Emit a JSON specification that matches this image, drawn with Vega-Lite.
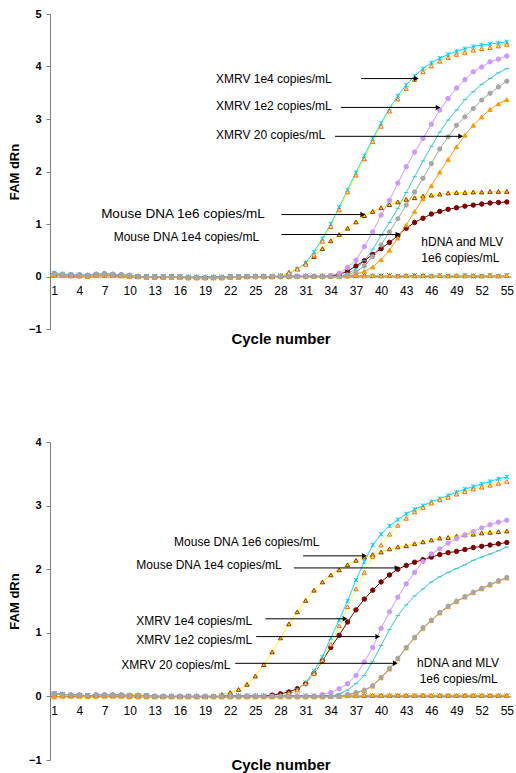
{
"$schema":"https://vega.github.io/schema/vega-lite/v6.json",
"padding":{"left":8,"right":2,"top":8,"bottom":0},
"spacing":89,
"config":{"view":{"stroke":null},"font":"Liberation Sans",
"axis":{"grid":false,"domainColor":"#808080","tickColor":"#808080","labelColor":"black","titleColor":"black","labelFont":"Liberation Sans","titleFont":"Liberation Sans"},
"axisY":{"labelFontWeight":"bold","labelFontSize":11,"labelPadding":5,"tickSize":4,"titleFontSize":13,"titleFontWeight":"bold","titlePadding":7},
"axisX":{"ticks":false,"labelFontSize":12,"labelPadding":9,"labelFlush":false,"titleFontSize":15,"titleFontWeight":"bold","titleBaseline":"middle"}},
"datasets":{
"arA":[{"c":37.6,"c2":44.2,"v":3.77},{"c":35.2,"c2":46.8,"v":3.22},{"c":34.5,"c2":49.5,"v":2.67},{"c":28.1,"c2":37.8,"v":1.18},{"c":28.1,"c2":42.0,"v":0.8}],
"arB":[{"c":30.7,"c2":38.0,"v":2.21},{"c":29.6,"c2":41.9,"v":2.02},{"c":26.2,"c2":35.7,"v":1.22},{"c":25.1,"c2":39.6,"v":0.94},{"c":22.6,"c2":41.7,"v":0.52}],
"ntA":[{"t":"XMRV 1e4 copies/mL","c":20.3,"v":3.77},{"t":"XMRV 1e2 copies/mL","c":20.3,"v":3.24},{"t":"XMRV 20 copies/mL","c":20.3,"v":2.69},{"t":"Mouse DNA 1e6 copies/mL","c":6.6,"v":1.2},{"t":"Mouse DNA 1e4 copies/mL","c":8.1,"v":0.76},{"t":"hDNA and MLV","c":44.8,"v":0.65},{"t":"1e6 copies/mL","c":44.8,"v":0.36}],
"ntB":[{"t":"Mouse DNA 1e6 copies/mL","c":15.3,"v":2.43},{"t":"Mouse DNA 1e4 copies/mL","c":10.8,"v":2.07},{"t":"XMRV 1e4 copies/mL","c":10.8,"v":1.18},{"t":"XMRV 1e2 copies/mL","c":10.8,"v":0.89},{"t":"XMRV 20 copies/mL","c":9.0,"v":0.5},{"t":"hDNA and MLV","c":44.3,"v":0.52},{"t":"1e6 copies/mL","c":44.6,"v":0.27}],
"A":[
{"s":"f1","c":1,"v":0.02},{"s":"f1","c":2,"v":0.02},{"s":"f1","c":3,"v":0.01},{"s":"f1","c":4,"v":0.01},{"s":"f1","c":5,"v":0.01},{"s":"f1","c":6,"v":0.02},{"s":"f1","c":7,"v":0.02},{"s":"f1","c":8,"v":0.02},{"s":"f1","c":9,"v":0.01},{"s":"f1","c":10,"v":0.01},{"s":"f1","c":11,"v":0},{"s":"f1","c":12,"v":0},{"s":"f1","c":13,"v":0},{"s":"f1","c":14,"v":0},{"s":"f1","c":15,"v":0},{"s":"f1","c":16,"v":0},{"s":"f1","c":17,"v":-0.01},{"s":"f1","c":18,"v":-0.01},{"s":"f1","c":19,"v":-0.01},{"s":"f1","c":20,"v":-0.01},{"s":"f1","c":21,"v":-0.01},{"s":"f1","c":22,"v":0},{"s":"f1","c":23,"v":0},{"s":"f1","c":24,"v":0},{"s":"f1","c":25,"v":0},{"s":"f1","c":26,"v":0},{"s":"f1","c":27,"v":0},{"s":"f1","c":28,"v":0.01},{"s":"f1","c":29,"v":0.01},{"s":"f1","c":30,"v":0.01},{"s":"f1","c":31,"v":0.01},{"s":"f1","c":32,"v":0.01},{"s":"f1","c":33,"v":0.01},{"s":"f1","c":34,"v":0.01},{"s":"f1","c":35,"v":0.01},{"s":"f1","c":36,"v":0.01},{"s":"f1","c":37,"v":0.01},{"s":"f1","c":38,"v":0.02},{"s":"f1","c":39,"v":0.01},{"s":"f1","c":40,"v":0.01},{"s":"f1","c":41,"v":0.02},{"s":"f1","c":42,"v":0.01},{"s":"f1","c":43,"v":0.01},{"s":"f1","c":44,"v":0.02},{"s":"f1","c":45,"v":0.01},{"s":"f1","c":46,"v":0.01},{"s":"f1","c":47,"v":0.02},{"s":"f1","c":48,"v":0.01},{"s":"f1","c":49,"v":0.01},{"s":"f1","c":50,"v":0.02},{"s":"f1","c":51,"v":0.01},{"s":"f1","c":52,"v":0.01},{"s":"f1","c":53,"v":0.02},{"s":"f1","c":54,"v":0.01},{"s":"f1","c":55,"v":0.02},
{"s":"f2","c":1,"v":0.03},{"s":"f2","c":2,"v":0.02},{"s":"f2","c":3,"v":0.02},{"s":"f2","c":4,"v":0.01},{"s":"f2","c":5,"v":0.01},{"s":"f2","c":6,"v":0.02},{"s":"f2","c":7,"v":0.03},{"s":"f2","c":8,"v":0.03},{"s":"f2","c":9,"v":0.02},{"s":"f2","c":10,"v":0.01},{"s":"f2","c":11,"v":0},{"s":"f2","c":12,"v":0},{"s":"f2","c":13,"v":0},{"s":"f2","c":14,"v":-0.01},{"s":"f2","c":15,"v":-0.01},{"s":"f2","c":16,"v":-0.01},{"s":"f2","c":17,"v":-0.01},{"s":"f2","c":18,"v":-0.01},{"s":"f2","c":19,"v":-0.01},{"s":"f2","c":20,"v":-0.01},{"s":"f2","c":21,"v":-0.01},{"s":"f2","c":22,"v":-0.01},{"s":"f2","c":23,"v":0},{"s":"f2","c":24,"v":0},{"s":"f2","c":25,"v":0},{"s":"f2","c":26,"v":0},{"s":"f2","c":27,"v":0},{"s":"f2","c":28,"v":0.01},{"s":"f2","c":29,"v":0.02},{"s":"f2","c":30,"v":0.01},{"s":"f2","c":31,"v":0.02},{"s":"f2","c":32,"v":0.01},{"s":"f2","c":33,"v":0.02},{"s":"f2","c":34,"v":0.01},{"s":"f2","c":35,"v":0.02},{"s":"f2","c":36,"v":0.01},{"s":"f2","c":37,"v":0.02},{"s":"f2","c":38,"v":0.01},{"s":"f2","c":39,"v":0.02},{"s":"f2","c":40,"v":0.01},{"s":"f2","c":41,"v":0.02},{"s":"f2","c":42,"v":0.01},{"s":"f2","c":43,"v":0.02},{"s":"f2","c":44,"v":0.01},{"s":"f2","c":45,"v":0.02},{"s":"f2","c":46,"v":0.01},{"s":"f2","c":47,"v":0.02},{"s":"f2","c":48,"v":0.01},{"s":"f2","c":49,"v":0.02},{"s":"f2","c":50,"v":0.01},{"s":"f2","c":51,"v":0.02},{"s":"f2","c":52,"v":0.01},{"s":"f2","c":53,"v":0.02},{"s":"f2","c":54,"v":0.01},{"s":"f2","c":55,"v":0.02},
{"s":"dr","c":1,"v":0.05},{"s":"dr","c":2,"v":0.04},{"s":"dr","c":3,"v":0.03},{"s":"dr","c":4,"v":0.03},{"s":"dr","c":5,"v":0.02},{"s":"dr","c":6,"v":0.04},{"s":"dr","c":7,"v":0.05},{"s":"dr","c":8,"v":0.04},{"s":"dr","c":9,"v":0.03},{"s":"dr","c":10,"v":0.02},{"s":"dr","c":11,"v":0},{"s":"dr","c":12,"v":-0.01},{"s":"dr","c":13,"v":-0.01},{"s":"dr","c":14,"v":-0.01},{"s":"dr","c":15,"v":-0.01},{"s":"dr","c":16,"v":-0.01},{"s":"dr","c":17,"v":-0.02},{"s":"dr","c":18,"v":-0.02},{"s":"dr","c":19,"v":-0.02},{"s":"dr","c":20,"v":-0.02},{"s":"dr","c":21,"v":-0.02},{"s":"dr","c":22,"v":-0.01},{"s":"dr","c":23,"v":-0.01},{"s":"dr","c":24,"v":0},{"s":"dr","c":25,"v":0},{"s":"dr","c":26,"v":0},{"s":"dr","c":27,"v":0},{"s":"dr","c":28,"v":0},{"s":"dr","c":29,"v":0},{"s":"dr","c":30,"v":0},{"s":"dr","c":31,"v":0},{"s":"dr","c":32,"v":0},{"s":"dr","c":33,"v":0},{"s":"dr","c":34,"v":0.01},{"s":"dr","c":35,"v":0.04},{"s":"dr","c":36,"v":0.1},{"s":"dr","c":37,"v":0.2},{"s":"dr","c":38,"v":0.3},{"s":"dr","c":39,"v":0.42},{"s":"dr","c":40,"v":0.53},{"s":"dr","c":41,"v":0.65},{"s":"dr","c":42,"v":0.78},{"s":"dr","c":43,"v":0.92},{"s":"dr","c":44,"v":1.03},{"s":"dr","c":45,"v":1.11},{"s":"dr","c":46,"v":1.19},{"s":"dr","c":47,"v":1.24},{"s":"dr","c":48,"v":1.28},{"s":"dr","c":49,"v":1.31},{"s":"dr","c":50,"v":1.34},{"s":"dr","c":51,"v":1.36},{"s":"dr","c":52,"v":1.38},{"s":"dr","c":53,"v":1.4},{"s":"dr","c":54,"v":1.41},{"s":"dr","c":55,"v":1.42},
{"s":"m6","c":1,"v":0.05},{"s":"m6","c":2,"v":0.04},{"s":"m6","c":3,"v":0.03},{"s":"m6","c":4,"v":0.03},{"s":"m6","c":5,"v":0.02},{"s":"m6","c":6,"v":0.04},{"s":"m6","c":7,"v":0.05},{"s":"m6","c":8,"v":0.04},{"s":"m6","c":9,"v":0.03},{"s":"m6","c":10,"v":0.02},{"s":"m6","c":11,"v":0},{"s":"m6","c":12,"v":-0.01},{"s":"m6","c":13,"v":-0.01},{"s":"m6","c":14,"v":-0.01},{"s":"m6","c":15,"v":-0.01},{"s":"m6","c":16,"v":-0.01},{"s":"m6","c":17,"v":-0.02},{"s":"m6","c":18,"v":-0.02},{"s":"m6","c":19,"v":-0.02},{"s":"m6","c":20,"v":-0.02},{"s":"m6","c":21,"v":-0.02},{"s":"m6","c":22,"v":-0.01},{"s":"m6","c":23,"v":-0.01},{"s":"m6","c":24,"v":0},{"s":"m6","c":25,"v":0},{"s":"m6","c":26,"v":0},{"s":"m6","c":27,"v":0},{"s":"m6","c":28,"v":0.02},{"s":"m6","c":29,"v":0.08},{"s":"m6","c":30,"v":0.15},{"s":"m6","c":31,"v":0.25},{"s":"m6","c":32,"v":0.38},{"s":"m6","c":33,"v":0.53},{"s":"m6","c":34,"v":0.68},{"s":"m6","c":35,"v":0.8},{"s":"m6","c":36,"v":0.92},{"s":"m6","c":37,"v":1.04},{"s":"m6","c":38,"v":1.16},{"s":"m6","c":39,"v":1.24},{"s":"m6","c":40,"v":1.31},{"s":"m6","c":41,"v":1.37},{"s":"m6","c":42,"v":1.42},{"s":"m6","c":43,"v":1.47},{"s":"m6","c":44,"v":1.5},{"s":"m6","c":45,"v":1.53},{"s":"m6","c":46,"v":1.55},{"s":"m6","c":47,"v":1.57},{"s":"m6","c":48,"v":1.59},{"s":"m6","c":49,"v":1.6},{"s":"m6","c":50,"v":1.6},{"s":"m6","c":51,"v":1.61},{"s":"m6","c":52,"v":1.61},{"s":"m6","c":53,"v":1.62},{"s":"m6","c":54,"v":1.62},{"s":"m6","c":55,"v":1.62},
{"s":"pu","c":1,"v":0.05},{"s":"pu","c":2,"v":0.04},{"s":"pu","c":3,"v":0.03},{"s":"pu","c":4,"v":0.03},{"s":"pu","c":5,"v":0.02},{"s":"pu","c":6,"v":0.04},{"s":"pu","c":7,"v":0.05},{"s":"pu","c":8,"v":0.04},{"s":"pu","c":9,"v":0.03},{"s":"pu","c":10,"v":0.02},{"s":"pu","c":11,"v":0},{"s":"pu","c":12,"v":-0.01},{"s":"pu","c":13,"v":-0.01},{"s":"pu","c":14,"v":-0.01},{"s":"pu","c":15,"v":-0.01},{"s":"pu","c":16,"v":-0.01},{"s":"pu","c":17,"v":-0.02},{"s":"pu","c":18,"v":-0.02},{"s":"pu","c":19,"v":-0.02},{"s":"pu","c":20,"v":-0.02},{"s":"pu","c":21,"v":-0.02},{"s":"pu","c":22,"v":-0.01},{"s":"pu","c":23,"v":-0.01},{"s":"pu","c":24,"v":0},{"s":"pu","c":25,"v":0},{"s":"pu","c":26,"v":0},{"s":"pu","c":27,"v":0},{"s":"pu","c":28,"v":0},{"s":"pu","c":29,"v":0},{"s":"pu","c":30,"v":0},{"s":"pu","c":31,"v":0},{"s":"pu","c":32,"v":0},{"s":"pu","c":33,"v":0},{"s":"pu","c":34,"v":0.02},{"s":"pu","c":35,"v":0.06},{"s":"pu","c":36,"v":0.17},{"s":"pu","c":37,"v":0.31},{"s":"pu","c":38,"v":0.57},{"s":"pu","c":39,"v":0.85},{"s":"pu","c":40,"v":1.17},{"s":"pu","c":41,"v":1.45},{"s":"pu","c":42,"v":1.78},{"s":"pu","c":43,"v":2.09},{"s":"pu","c":44,"v":2.37},{"s":"pu","c":45,"v":2.63},{"s":"pu","c":46,"v":2.9},{"s":"pu","c":47,"v":3.17},{"s":"pu","c":48,"v":3.39},{"s":"pu","c":49,"v":3.59},{"s":"pu","c":50,"v":3.75},{"s":"pu","c":51,"v":3.9},{"s":"pu","c":52,"v":3.99},{"s":"pu","c":53,"v":4.09},{"s":"pu","c":54,"v":4.14},{"s":"pu","c":55,"v":4.2},
{"s":"te","c":1,"v":0.05},{"s":"te","c":2,"v":0.04},{"s":"te","c":3,"v":0.03},{"s":"te","c":4,"v":0.03},{"s":"te","c":5,"v":0.02},{"s":"te","c":6,"v":0.04},{"s":"te","c":7,"v":0.05},{"s":"te","c":8,"v":0.04},{"s":"te","c":9,"v":0.03},{"s":"te","c":10,"v":0.02},{"s":"te","c":11,"v":0},{"s":"te","c":12,"v":-0.01},{"s":"te","c":13,"v":-0.01},{"s":"te","c":14,"v":-0.01},{"s":"te","c":15,"v":-0.01},{"s":"te","c":16,"v":-0.01},{"s":"te","c":17,"v":-0.02},{"s":"te","c":18,"v":-0.02},{"s":"te","c":19,"v":-0.02},{"s":"te","c":20,"v":-0.02},{"s":"te","c":21,"v":-0.02},{"s":"te","c":22,"v":-0.01},{"s":"te","c":23,"v":-0.01},{"s":"te","c":24,"v":0},{"s":"te","c":25,"v":0},{"s":"te","c":26,"v":0},{"s":"te","c":27,"v":0},{"s":"te","c":28,"v":0},{"s":"te","c":29,"v":0},{"s":"te","c":30,"v":0},{"s":"te","c":31,"v":0},{"s":"te","c":32,"v":0},{"s":"te","c":33,"v":0},{"s":"te","c":34,"v":0},{"s":"te","c":35,"v":0},{"s":"te","c":36,"v":0.05},{"s":"te","c":37,"v":0.15},{"s":"te","c":38,"v":0.3},{"s":"te","c":39,"v":0.52},{"s":"te","c":40,"v":0.78},{"s":"te","c":41,"v":1.03},{"s":"te","c":42,"v":1.3},{"s":"te","c":43,"v":1.6},{"s":"te","c":44,"v":1.9},{"s":"te","c":45,"v":2.2},{"s":"te","c":46,"v":2.48},{"s":"te","c":47,"v":2.75},{"s":"te","c":48,"v":2.98},{"s":"te","c":49,"v":3.17},{"s":"te","c":50,"v":3.37},{"s":"te","c":51,"v":3.52},{"s":"te","c":52,"v":3.66},{"s":"te","c":53,"v":3.77},{"s":"te","c":54,"v":3.88},{"s":"te","c":55,"v":3.96},
{"s":"cy","c":1,"v":0.07},{"s":"cy","c":2,"v":0.05},{"s":"cy","c":3,"v":0.04},{"s":"cy","c":4,"v":0.03},{"s":"cy","c":5,"v":0.02},{"s":"cy","c":6,"v":0.03},{"s":"cy","c":7,"v":0.04},{"s":"cy","c":8,"v":0.03},{"s":"cy","c":9,"v":0.02},{"s":"cy","c":10,"v":0.01},{"s":"cy","c":11,"v":0},{"s":"cy","c":12,"v":0},{"s":"cy","c":13,"v":-0.01},{"s":"cy","c":14,"v":-0.01},{"s":"cy","c":15,"v":-0.01},{"s":"cy","c":16,"v":-0.01},{"s":"cy","c":17,"v":-0.01},{"s":"cy","c":18,"v":-0.01},{"s":"cy","c":19,"v":-0.01},{"s":"cy","c":20,"v":-0.01},{"s":"cy","c":21,"v":-0.01},{"s":"cy","c":22,"v":-0.01},{"s":"cy","c":23,"v":0},{"s":"cy","c":24,"v":0},{"s":"cy","c":25,"v":0},{"s":"cy","c":26,"v":0},{"s":"cy","c":27,"v":0},{"s":"cy","c":28,"v":0.02},{"s":"cy","c":29,"v":0.05},{"s":"cy","c":30,"v":0.14},{"s":"cy","c":31,"v":0.26},{"s":"cy","c":32,"v":0.47},{"s":"cy","c":33,"v":0.72},{"s":"cy","c":34,"v":1.0},{"s":"cy","c":35,"v":1.32},{"s":"cy","c":36,"v":1.65},{"s":"cy","c":37,"v":1.98},{"s":"cy","c":38,"v":2.3},{"s":"cy","c":39,"v":2.62},{"s":"cy","c":40,"v":2.92},{"s":"cy","c":41,"v":3.2},{"s":"cy","c":42,"v":3.44},{"s":"cy","c":43,"v":3.65},{"s":"cy","c":44,"v":3.82},{"s":"cy","c":45,"v":3.96},{"s":"cy","c":46,"v":4.07},{"s":"cy","c":47,"v":4.16},{"s":"cy","c":48,"v":4.23},{"s":"cy","c":49,"v":4.29},{"s":"cy","c":50,"v":4.34},{"s":"cy","c":51,"v":4.38},{"s":"cy","c":52,"v":4.41},{"s":"cy","c":53,"v":4.43},{"s":"cy","c":54,"v":4.45},{"s":"cy","c":55,"v":4.47},
{"s":"ot","c":1,"v":0.04},{"s":"ot","c":2,"v":0.03},{"s":"ot","c":3,"v":0.02},{"s":"ot","c":4,"v":0.02},{"s":"ot","c":5,"v":0.01},{"s":"ot","c":6,"v":0.03},{"s":"ot","c":7,"v":0.04},{"s":"ot","c":8,"v":0.03},{"s":"ot","c":9,"v":0.02},{"s":"ot","c":10,"v":0.01},{"s":"ot","c":11,"v":0},{"s":"ot","c":12,"v":-0.01},{"s":"ot","c":13,"v":-0.01},{"s":"ot","c":14,"v":-0.01},{"s":"ot","c":15,"v":-0.01},{"s":"ot","c":16,"v":-0.01},{"s":"ot","c":17,"v":-0.01},{"s":"ot","c":18,"v":-0.02},{"s":"ot","c":19,"v":-0.02},{"s":"ot","c":20,"v":-0.02},{"s":"ot","c":21,"v":-0.02},{"s":"ot","c":22,"v":-0.01},{"s":"ot","c":23,"v":-0.01},{"s":"ot","c":24,"v":0},{"s":"ot","c":25,"v":0},{"s":"ot","c":26,"v":0},{"s":"ot","c":27,"v":0},{"s":"ot","c":28,"v":0.02},{"s":"ot","c":29,"v":0.07},{"s":"ot","c":30,"v":0.14},{"s":"ot","c":31,"v":0.23},{"s":"ot","c":32,"v":0.41},{"s":"ot","c":33,"v":0.67},{"s":"ot","c":34,"v":0.95},{"s":"ot","c":35,"v":1.27},{"s":"ot","c":36,"v":1.61},{"s":"ot","c":37,"v":1.93},{"s":"ot","c":38,"v":2.24},{"s":"ot","c":39,"v":2.57},{"s":"ot","c":40,"v":2.86},{"s":"ot","c":41,"v":3.15},{"s":"ot","c":42,"v":3.38},{"s":"ot","c":43,"v":3.58},{"s":"ot","c":44,"v":3.75},{"s":"ot","c":45,"v":3.9},{"s":"ot","c":46,"v":4.01},{"s":"ot","c":47,"v":4.1},{"s":"ot","c":48,"v":4.17},{"s":"ot","c":49,"v":4.23},{"s":"ot","c":50,"v":4.27},{"s":"ot","c":51,"v":4.31},{"s":"ot","c":52,"v":4.34},{"s":"ot","c":53,"v":4.36},{"s":"ot","c":54,"v":4.39},{"s":"ot","c":55,"v":4.42},
{"s":"or","c":1,"v":0.03},{"s":"or","c":2,"v":0.02},{"s":"or","c":3,"v":0.01},{"s":"or","c":4,"v":0.01},{"s":"or","c":5,"v":0},{"s":"or","c":6,"v":0.02},{"s":"or","c":7,"v":0.03},{"s":"or","c":8,"v":0.02},{"s":"or","c":9,"v":0.01},{"s":"or","c":10,"v":0},{"s":"or","c":11,"v":-0.01},{"s":"or","c":12,"v":-0.02},{"s":"or","c":13,"v":-0.02},{"s":"or","c":14,"v":-0.02},{"s":"or","c":15,"v":-0.02},{"s":"or","c":16,"v":-0.02},{"s":"or","c":17,"v":-0.03},{"s":"or","c":18,"v":-0.03},{"s":"or","c":19,"v":-0.03},{"s":"or","c":20,"v":-0.03},{"s":"or","c":21,"v":-0.03},{"s":"or","c":22,"v":-0.02},{"s":"or","c":23,"v":-0.02},{"s":"or","c":24,"v":-0.01},{"s":"or","c":25,"v":-0.01},{"s":"or","c":26,"v":-0.01},{"s":"or","c":27,"v":-0.01},{"s":"or","c":28,"v":0},{"s":"or","c":29,"v":0},{"s":"or","c":30,"v":0},{"s":"or","c":31,"v":0},{"s":"or","c":32,"v":0},{"s":"or","c":33,"v":0},{"s":"or","c":34,"v":0},{"s":"or","c":35,"v":0},{"s":"or","c":36,"v":0.01},{"s":"or","c":37,"v":0.04},{"s":"or","c":38,"v":0.1},{"s":"or","c":39,"v":0.18},{"s":"or","c":40,"v":0.32},{"s":"or","c":41,"v":0.5},{"s":"or","c":42,"v":0.73},{"s":"or","c":43,"v":0.98},{"s":"or","c":44,"v":1.24},{"s":"or","c":45,"v":1.48},{"s":"or","c":46,"v":1.73},{"s":"or","c":47,"v":1.99},{"s":"or","c":48,"v":2.23},{"s":"or","c":49,"v":2.47},{"s":"or","c":50,"v":2.69},{"s":"or","c":51,"v":2.88},{"s":"or","c":52,"v":3.04},{"s":"or","c":53,"v":3.18},{"s":"or","c":54,"v":3.29},{"s":"or","c":55,"v":3.37},
{"s":"gr","c":1,"v":0.05},{"s":"gr","c":2,"v":0.04},{"s":"gr","c":3,"v":0.03},{"s":"gr","c":4,"v":0.03},{"s":"gr","c":5,"v":0.02},{"s":"gr","c":6,"v":0.04},{"s":"gr","c":7,"v":0.05},{"s":"gr","c":8,"v":0.04},{"s":"gr","c":9,"v":0.03},{"s":"gr","c":10,"v":0.02},{"s":"gr","c":11,"v":0},{"s":"gr","c":12,"v":-0.01},{"s":"gr","c":13,"v":-0.01},{"s":"gr","c":14,"v":-0.01},{"s":"gr","c":15,"v":-0.01},{"s":"gr","c":16,"v":-0.01},{"s":"gr","c":17,"v":-0.02},{"s":"gr","c":18,"v":-0.02},{"s":"gr","c":19,"v":-0.02},{"s":"gr","c":20,"v":-0.02},{"s":"gr","c":21,"v":-0.02},{"s":"gr","c":22,"v":-0.01},{"s":"gr","c":23,"v":-0.01},{"s":"gr","c":24,"v":0},{"s":"gr","c":25,"v":0},{"s":"gr","c":26,"v":0},{"s":"gr","c":27,"v":0},{"s":"gr","c":28,"v":0},{"s":"gr","c":29,"v":0},{"s":"gr","c":30,"v":0},{"s":"gr","c":31,"v":0},{"s":"gr","c":32,"v":0},{"s":"gr","c":33,"v":0},{"s":"gr","c":34,"v":0},{"s":"gr","c":35,"v":0},{"s":"gr","c":36,"v":0.03},{"s":"gr","c":37,"v":0.09},{"s":"gr","c":38,"v":0.2},{"s":"gr","c":39,"v":0.38},{"s":"gr","c":40,"v":0.6},{"s":"gr","c":41,"v":0.85},{"s":"gr","c":42,"v":1.1},{"s":"gr","c":43,"v":1.36},{"s":"gr","c":44,"v":1.61},{"s":"gr","c":45,"v":1.87},{"s":"gr","c":46,"v":2.15},{"s":"gr","c":47,"v":2.43},{"s":"gr","c":48,"v":2.66},{"s":"gr","c":49,"v":2.88},{"s":"gr","c":50,"v":3.04},{"s":"gr","c":51,"v":3.2},{"s":"gr","c":52,"v":3.36},{"s":"gr","c":53,"v":3.49},{"s":"gr","c":54,"v":3.61},{"s":"gr","c":55,"v":3.72}
],
"B":[
{"s":"f1","c":1,"v":0.04},{"s":"f1","c":2,"v":0.03},{"s":"f1","c":3,"v":0.02},{"s":"f1","c":4,"v":0.02},{"s":"f1","c":5,"v":0.01},{"s":"f1","c":6,"v":0.02},{"s":"f1","c":7,"v":0.02},{"s":"f1","c":8,"v":0.02},{"s":"f1","c":9,"v":0.02},{"s":"f1","c":10,"v":0.01},{"s":"f1","c":11,"v":0.01},{"s":"f1","c":12,"v":0.01},{"s":"f1","c":13,"v":0},{"s":"f1","c":14,"v":0},{"s":"f1","c":15,"v":0},{"s":"f1","c":16,"v":0},{"s":"f1","c":17,"v":0},{"s":"f1","c":18,"v":0},{"s":"f1","c":19,"v":0},{"s":"f1","c":20,"v":0},{"s":"f1","c":21,"v":0.01},{"s":"f1","c":22,"v":0.01},{"s":"f1","c":23,"v":0.01},{"s":"f1","c":24,"v":0.01},{"s":"f1","c":25,"v":0.01},{"s":"f1","c":26,"v":0.01},{"s":"f1","c":27,"v":0.01},{"s":"f1","c":28,"v":0.01},{"s":"f1","c":29,"v":0.01},{"s":"f1","c":30,"v":0.01},{"s":"f1","c":31,"v":0.01},{"s":"f1","c":32,"v":0.01},{"s":"f1","c":33,"v":0.01},{"s":"f1","c":34,"v":0.01},{"s":"f1","c":35,"v":0.01},{"s":"f1","c":36,"v":0.01},{"s":"f1","c":37,"v":0.01},{"s":"f1","c":38,"v":0.01},{"s":"f1","c":39,"v":0.01},{"s":"f1","c":40,"v":0.01},{"s":"f1","c":41,"v":0.01},{"s":"f1","c":42,"v":0.01},{"s":"f1","c":43,"v":0.01},{"s":"f1","c":44,"v":0.01},{"s":"f1","c":45,"v":0.01},{"s":"f1","c":46,"v":0.01},{"s":"f1","c":47,"v":0.01},{"s":"f1","c":48,"v":0.01},{"s":"f1","c":49,"v":0.01},{"s":"f1","c":50,"v":0.01},{"s":"f1","c":51,"v":0.01},{"s":"f1","c":52,"v":0.01},{"s":"f1","c":53,"v":0.01},{"s":"f1","c":54,"v":0.01},{"s":"f1","c":55,"v":0.01},
{"s":"f2","c":1,"v":0.03},{"s":"f2","c":2,"v":0.02},{"s":"f2","c":3,"v":0.02},{"s":"f2","c":4,"v":0.01},{"s":"f2","c":5,"v":0.01},{"s":"f2","c":6,"v":0.01},{"s":"f2","c":7,"v":0.02},{"s":"f2","c":8,"v":0.02},{"s":"f2","c":9,"v":0.03},{"s":"f2","c":10,"v":0.03},{"s":"f2","c":11,"v":0.03},{"s":"f2","c":12,"v":0.02},{"s":"f2","c":13,"v":0.01},{"s":"f2","c":14,"v":0},{"s":"f2","c":15,"v":0},{"s":"f2","c":16,"v":0},{"s":"f2","c":17,"v":0},{"s":"f2","c":18,"v":0},{"s":"f2","c":19,"v":0},{"s":"f2","c":20,"v":0},{"s":"f2","c":21,"v":0},{"s":"f2","c":22,"v":0},{"s":"f2","c":23,"v":0},{"s":"f2","c":24,"v":0},{"s":"f2","c":25,"v":0},{"s":"f2","c":26,"v":0},{"s":"f2","c":27,"v":0},{"s":"f2","c":28,"v":0},{"s":"f2","c":29,"v":0},{"s":"f2","c":30,"v":0},{"s":"f2","c":31,"v":0},{"s":"f2","c":32,"v":0},{"s":"f2","c":33,"v":0},{"s":"f2","c":34,"v":0},{"s":"f2","c":35,"v":0},{"s":"f2","c":36,"v":0.01},{"s":"f2","c":37,"v":0.01},{"s":"f2","c":38,"v":0.02},{"s":"f2","c":39,"v":0.02},{"s":"f2","c":40,"v":0.02},{"s":"f2","c":41,"v":0.02},{"s":"f2","c":42,"v":0.02},{"s":"f2","c":43,"v":0.02},{"s":"f2","c":44,"v":0.02},{"s":"f2","c":45,"v":0.02},{"s":"f2","c":46,"v":0.02},{"s":"f2","c":47,"v":0.02},{"s":"f2","c":48,"v":0.02},{"s":"f2","c":49,"v":0.02},{"s":"f2","c":50,"v":0.02},{"s":"f2","c":51,"v":0.02},{"s":"f2","c":52,"v":0.02},{"s":"f2","c":53,"v":0.02},{"s":"f2","c":54,"v":0.02},{"s":"f2","c":55,"v":0.02},
{"s":"dr","c":1,"v":0.04},{"s":"dr","c":2,"v":0.03},{"s":"dr","c":3,"v":0.02},{"s":"dr","c":4,"v":0.02},{"s":"dr","c":5,"v":0.01},{"s":"dr","c":6,"v":0.02},{"s":"dr","c":7,"v":0.02},{"s":"dr","c":8,"v":0.02},{"s":"dr","c":9,"v":0.02},{"s":"dr","c":10,"v":0.01},{"s":"dr","c":11,"v":0.01},{"s":"dr","c":12,"v":0.01},{"s":"dr","c":13,"v":0},{"s":"dr","c":14,"v":0},{"s":"dr","c":15,"v":0},{"s":"dr","c":16,"v":0},{"s":"dr","c":17,"v":0},{"s":"dr","c":18,"v":0},{"s":"dr","c":19,"v":0},{"s":"dr","c":20,"v":0},{"s":"dr","c":21,"v":0},{"s":"dr","c":22,"v":0},{"s":"dr","c":23,"v":0},{"s":"dr","c":24,"v":0},{"s":"dr","c":25,"v":0},{"s":"dr","c":26,"v":0},{"s":"dr","c":27,"v":0.02},{"s":"dr","c":28,"v":0.04},{"s":"dr","c":29,"v":0.07},{"s":"dr","c":30,"v":0.12},{"s":"dr","c":31,"v":0.2},{"s":"dr","c":32,"v":0.36},{"s":"dr","c":33,"v":0.56},{"s":"dr","c":34,"v":0.77},{"s":"dr","c":35,"v":0.96},{"s":"dr","c":36,"v":1.17},{"s":"dr","c":37,"v":1.36},{"s":"dr","c":38,"v":1.53},{"s":"dr","c":39,"v":1.67},{"s":"dr","c":40,"v":1.8},{"s":"dr","c":41,"v":1.91},{"s":"dr","c":42,"v":2.0},{"s":"dr","c":43,"v":2.06},{"s":"dr","c":44,"v":2.11},{"s":"dr","c":45,"v":2.15},{"s":"dr","c":46,"v":2.19},{"s":"dr","c":47,"v":2.23},{"s":"dr","c":48,"v":2.26},{"s":"dr","c":49,"v":2.28},{"s":"dr","c":50,"v":2.31},{"s":"dr","c":51,"v":2.34},{"s":"dr","c":52,"v":2.36},{"s":"dr","c":53,"v":2.38},{"s":"dr","c":54,"v":2.4},{"s":"dr","c":55,"v":2.42},
{"s":"m6","c":1,"v":0.04},{"s":"m6","c":2,"v":0.03},{"s":"m6","c":3,"v":0.02},{"s":"m6","c":4,"v":0.02},{"s":"m6","c":5,"v":0.01},{"s":"m6","c":6,"v":0.02},{"s":"m6","c":7,"v":0.02},{"s":"m6","c":8,"v":0.02},{"s":"m6","c":9,"v":0.02},{"s":"m6","c":10,"v":0.01},{"s":"m6","c":11,"v":0.01},{"s":"m6","c":12,"v":0.01},{"s":"m6","c":13,"v":0},{"s":"m6","c":14,"v":0},{"s":"m6","c":15,"v":0},{"s":"m6","c":16,"v":0},{"s":"m6","c":17,"v":0},{"s":"m6","c":18,"v":0},{"s":"m6","c":19,"v":0},{"s":"m6","c":20,"v":0},{"s":"m6","c":21,"v":0.03},{"s":"m6","c":22,"v":0.06},{"s":"m6","c":23,"v":0.11},{"s":"m6","c":24,"v":0.19},{"s":"m6","c":25,"v":0.32},{"s":"m6","c":26,"v":0.5},{"s":"m6","c":27,"v":0.7},{"s":"m6","c":28,"v":0.92},{"s":"m6","c":29,"v":1.14},{"s":"m6","c":30,"v":1.33},{"s":"m6","c":31,"v":1.51},{"s":"m6","c":32,"v":1.67},{"s":"m6","c":33,"v":1.8},{"s":"m6","c":34,"v":1.91},{"s":"m6","c":35,"v":1.99},{"s":"m6","c":36,"v":2.07},{"s":"m6","c":37,"v":2.14},{"s":"m6","c":38,"v":2.19},{"s":"m6","c":39,"v":2.23},{"s":"m6","c":40,"v":2.27},{"s":"m6","c":41,"v":2.32},{"s":"m6","c":42,"v":2.35},{"s":"m6","c":43,"v":2.37},{"s":"m6","c":44,"v":2.4},{"s":"m6","c":45,"v":2.43},{"s":"m6","c":46,"v":2.46},{"s":"m6","c":47,"v":2.49},{"s":"m6","c":48,"v":2.5},{"s":"m6","c":49,"v":2.52},{"s":"m6","c":50,"v":2.54},{"s":"m6","c":51,"v":2.55},{"s":"m6","c":52,"v":2.57},{"s":"m6","c":53,"v":2.58},{"s":"m6","c":54,"v":2.59},{"s":"m6","c":55,"v":2.6},
{"s":"pu","c":1,"v":0.04},{"s":"pu","c":2,"v":0.03},{"s":"pu","c":3,"v":0.02},{"s":"pu","c":4,"v":0.02},{"s":"pu","c":5,"v":0.01},{"s":"pu","c":6,"v":0.02},{"s":"pu","c":7,"v":0.02},{"s":"pu","c":8,"v":0.02},{"s":"pu","c":9,"v":0.02},{"s":"pu","c":10,"v":0.01},{"s":"pu","c":11,"v":0.01},{"s":"pu","c":12,"v":0.01},{"s":"pu","c":13,"v":0},{"s":"pu","c":14,"v":0},{"s":"pu","c":15,"v":0},{"s":"pu","c":16,"v":0},{"s":"pu","c":17,"v":0},{"s":"pu","c":18,"v":0},{"s":"pu","c":19,"v":0},{"s":"pu","c":20,"v":0},{"s":"pu","c":21,"v":0},{"s":"pu","c":22,"v":0},{"s":"pu","c":23,"v":0},{"s":"pu","c":24,"v":0},{"s":"pu","c":25,"v":0},{"s":"pu","c":26,"v":0},{"s":"pu","c":27,"v":0},{"s":"pu","c":28,"v":0},{"s":"pu","c":29,"v":0},{"s":"pu","c":30,"v":0},{"s":"pu","c":31,"v":0},{"s":"pu","c":32,"v":0},{"s":"pu","c":33,"v":0.03},{"s":"pu","c":34,"v":0.06},{"s":"pu","c":35,"v":0.12},{"s":"pu","c":36,"v":0.2},{"s":"pu","c":37,"v":0.33},{"s":"pu","c":38,"v":0.54},{"s":"pu","c":39,"v":0.77},{"s":"pu","c":40,"v":1.07},{"s":"pu","c":41,"v":1.33},{"s":"pu","c":42,"v":1.56},{"s":"pu","c":43,"v":1.77},{"s":"pu","c":44,"v":1.95},{"s":"pu","c":45,"v":2.12},{"s":"pu","c":46,"v":2.24},{"s":"pu","c":47,"v":2.32},{"s":"pu","c":48,"v":2.41},{"s":"pu","c":49,"v":2.48},{"s":"pu","c":50,"v":2.54},{"s":"pu","c":51,"v":2.59},{"s":"pu","c":52,"v":2.65},{"s":"pu","c":53,"v":2.7},{"s":"pu","c":54,"v":2.74},{"s":"pu","c":55,"v":2.77},
{"s":"te","c":1,"v":0.04},{"s":"te","c":2,"v":0.03},{"s":"te","c":3,"v":0.02},{"s":"te","c":4,"v":0.02},{"s":"te","c":5,"v":0.01},{"s":"te","c":6,"v":0.02},{"s":"te","c":7,"v":0.02},{"s":"te","c":8,"v":0.02},{"s":"te","c":9,"v":0.02},{"s":"te","c":10,"v":0.01},{"s":"te","c":11,"v":0.01},{"s":"te","c":12,"v":0.01},{"s":"te","c":13,"v":0},{"s":"te","c":14,"v":0},{"s":"te","c":15,"v":0},{"s":"te","c":16,"v":0},{"s":"te","c":17,"v":0},{"s":"te","c":18,"v":0},{"s":"te","c":19,"v":0},{"s":"te","c":20,"v":0},{"s":"te","c":21,"v":0},{"s":"te","c":22,"v":0},{"s":"te","c":23,"v":0},{"s":"te","c":24,"v":0},{"s":"te","c":25,"v":0},{"s":"te","c":26,"v":0},{"s":"te","c":27,"v":0},{"s":"te","c":28,"v":0},{"s":"te","c":29,"v":0},{"s":"te","c":30,"v":0},{"s":"te","c":31,"v":0},{"s":"te","c":32,"v":0},{"s":"te","c":33,"v":0},{"s":"te","c":34,"v":0},{"s":"te","c":35,"v":0.04},{"s":"te","c":36,"v":0.1},{"s":"te","c":37,"v":0.2},{"s":"te","c":38,"v":0.33},{"s":"te","c":39,"v":0.55},{"s":"te","c":40,"v":0.8},{"s":"te","c":41,"v":1.05},{"s":"te","c":42,"v":1.27},{"s":"te","c":43,"v":1.44},{"s":"te","c":44,"v":1.58},{"s":"te","c":45,"v":1.69},{"s":"te","c":46,"v":1.8},{"s":"te","c":47,"v":1.88},{"s":"te","c":48,"v":1.95},{"s":"te","c":49,"v":2.01},{"s":"te","c":50,"v":2.07},{"s":"te","c":51,"v":2.14},{"s":"te","c":52,"v":2.19},{"s":"te","c":53,"v":2.24},{"s":"te","c":54,"v":2.29},{"s":"te","c":55,"v":2.35},
{"s":"cy","c":1,"v":0.04},{"s":"cy","c":2,"v":0.03},{"s":"cy","c":3,"v":0.02},{"s":"cy","c":4,"v":0.02},{"s":"cy","c":5,"v":0.01},{"s":"cy","c":6,"v":0.02},{"s":"cy","c":7,"v":0.02},{"s":"cy","c":8,"v":0.02},{"s":"cy","c":9,"v":0.02},{"s":"cy","c":10,"v":0.01},{"s":"cy","c":11,"v":0.01},{"s":"cy","c":12,"v":0.01},{"s":"cy","c":13,"v":0},{"s":"cy","c":14,"v":0},{"s":"cy","c":15,"v":0},{"s":"cy","c":16,"v":0},{"s":"cy","c":17,"v":0},{"s":"cy","c":18,"v":0},{"s":"cy","c":19,"v":0},{"s":"cy","c":20,"v":0},{"s":"cy","c":21,"v":0},{"s":"cy","c":22,"v":0},{"s":"cy","c":23,"v":0},{"s":"cy","c":24,"v":0},{"s":"cy","c":25,"v":0},{"s":"cy","c":26,"v":0},{"s":"cy","c":27,"v":0},{"s":"cy","c":28,"v":0},{"s":"cy","c":29,"v":0.04},{"s":"cy","c":30,"v":0.1},{"s":"cy","c":31,"v":0.22},{"s":"cy","c":32,"v":0.4},{"s":"cy","c":33,"v":0.62},{"s":"cy","c":34,"v":0.92},{"s":"cy","c":35,"v":1.2},{"s":"cy","c":36,"v":1.5},{"s":"cy","c":37,"v":1.83},{"s":"cy","c":38,"v":2.12},{"s":"cy","c":39,"v":2.38},{"s":"cy","c":40,"v":2.55},{"s":"cy","c":41,"v":2.68},{"s":"cy","c":42,"v":2.78},{"s":"cy","c":43,"v":2.87},{"s":"cy","c":44,"v":2.94},{"s":"cy","c":45,"v":3.0},{"s":"cy","c":46,"v":3.06},{"s":"cy","c":47,"v":3.11},{"s":"cy","c":48,"v":3.16},{"s":"cy","c":49,"v":3.21},{"s":"cy","c":50,"v":3.26},{"s":"cy","c":51,"v":3.3},{"s":"cy","c":52,"v":3.34},{"s":"cy","c":53,"v":3.38},{"s":"cy","c":54,"v":3.42},{"s":"cy","c":55,"v":3.45},
{"s":"ot","c":1,"v":0.02},{"s":"ot","c":2,"v":0.01},{"s":"ot","c":3,"v":0.01},{"s":"ot","c":4,"v":0.01},{"s":"ot","c":5,"v":0},{"s":"ot","c":6,"v":0.01},{"s":"ot","c":7,"v":0.01},{"s":"ot","c":8,"v":0.01},{"s":"ot","c":9,"v":0.01},{"s":"ot","c":10,"v":0},{"s":"ot","c":11,"v":0},{"s":"ot","c":12,"v":0},{"s":"ot","c":13,"v":0},{"s":"ot","c":14,"v":0},{"s":"ot","c":15,"v":0},{"s":"ot","c":16,"v":0},{"s":"ot","c":17,"v":0},{"s":"ot","c":18,"v":0},{"s":"ot","c":19,"v":0},{"s":"ot","c":20,"v":0},{"s":"ot","c":21,"v":0},{"s":"ot","c":22,"v":0},{"s":"ot","c":23,"v":0},{"s":"ot","c":24,"v":0},{"s":"ot","c":25,"v":0},{"s":"ot","c":26,"v":0},{"s":"ot","c":27,"v":0},{"s":"ot","c":28,"v":0.02},{"s":"ot","c":29,"v":0.05},{"s":"ot","c":30,"v":0.1},{"s":"ot","c":31,"v":0.2},{"s":"ot","c":32,"v":0.36},{"s":"ot","c":33,"v":0.57},{"s":"ot","c":34,"v":0.82},{"s":"ot","c":35,"v":1.11},{"s":"ot","c":36,"v":1.41},{"s":"ot","c":37,"v":1.69},{"s":"ot","c":38,"v":1.95},{"s":"ot","c":39,"v":2.2},{"s":"ot","c":40,"v":2.38},{"s":"ot","c":41,"v":2.55},{"s":"ot","c":42,"v":2.69},{"s":"ot","c":43,"v":2.8},{"s":"ot","c":44,"v":2.9},{"s":"ot","c":45,"v":2.97},{"s":"ot","c":46,"v":3.04},{"s":"ot","c":47,"v":3.09},{"s":"ot","c":48,"v":3.13},{"s":"ot","c":49,"v":3.18},{"s":"ot","c":50,"v":3.22},{"s":"ot","c":51,"v":3.26},{"s":"ot","c":52,"v":3.29},{"s":"ot","c":53,"v":3.32},{"s":"ot","c":54,"v":3.35},{"s":"ot","c":55,"v":3.38},
{"s":"or","c":1,"v":-0.01},{"s":"or","c":2,"v":0},{"s":"or","c":3,"v":0},{"s":"or","c":4,"v":0},{"s":"or","c":5,"v":0},{"s":"or","c":6,"v":0},{"s":"or","c":7,"v":0},{"s":"or","c":8,"v":0},{"s":"or","c":9,"v":0},{"s":"or","c":10,"v":-0.01},{"s":"or","c":11,"v":-0.01},{"s":"or","c":12,"v":-0.01},{"s":"or","c":13,"v":-0.01},{"s":"or","c":14,"v":-0.01},{"s":"or","c":15,"v":-0.01},{"s":"or","c":16,"v":-0.01},{"s":"or","c":17,"v":-0.01},{"s":"or","c":18,"v":-0.01},{"s":"or","c":19,"v":-0.01},{"s":"or","c":20,"v":-0.01},{"s":"or","c":21,"v":-0.01},{"s":"or","c":22,"v":-0.01},{"s":"or","c":23,"v":-0.01},{"s":"or","c":24,"v":-0.01},{"s":"or","c":25,"v":-0.01},{"s":"or","c":26,"v":-0.01},{"s":"or","c":27,"v":-0.01},{"s":"or","c":28,"v":-0.01},{"s":"or","c":29,"v":-0.01},{"s":"or","c":30,"v":-0.01},{"s":"or","c":31,"v":-0.01},{"s":"or","c":32,"v":-0.01},{"s":"or","c":33,"v":-0.01},{"s":"or","c":34,"v":0},{"s":"or","c":35,"v":0},{"s":"or","c":36,"v":0.02},{"s":"or","c":37,"v":0.05},{"s":"or","c":38,"v":0.09},{"s":"or","c":39,"v":0.16},{"s":"or","c":40,"v":0.29},{"s":"or","c":41,"v":0.43},{"s":"or","c":42,"v":0.59},{"s":"or","c":43,"v":0.76},{"s":"or","c":44,"v":0.92},{"s":"or","c":45,"v":1.07},{"s":"or","c":46,"v":1.19},{"s":"or","c":47,"v":1.31},{"s":"or","c":48,"v":1.41},{"s":"or","c":49,"v":1.49},{"s":"or","c":50,"v":1.56},{"s":"or","c":51,"v":1.63},{"s":"or","c":52,"v":1.69},{"s":"or","c":53,"v":1.75},{"s":"or","c":54,"v":1.81},{"s":"or","c":55,"v":1.86},
{"s":"gr","c":1,"v":0.04},{"s":"gr","c":2,"v":0.03},{"s":"gr","c":3,"v":0.02},{"s":"gr","c":4,"v":0.02},{"s":"gr","c":5,"v":0.01},{"s":"gr","c":6,"v":0.02},{"s":"gr","c":7,"v":0.02},{"s":"gr","c":8,"v":0.02},{"s":"gr","c":9,"v":0.02},{"s":"gr","c":10,"v":0.01},{"s":"gr","c":11,"v":0.01},{"s":"gr","c":12,"v":0.01},{"s":"gr","c":13,"v":0},{"s":"gr","c":14,"v":0},{"s":"gr","c":15,"v":0},{"s":"gr","c":16,"v":0},{"s":"gr","c":17,"v":0},{"s":"gr","c":18,"v":0},{"s":"gr","c":19,"v":0},{"s":"gr","c":20,"v":0},{"s":"gr","c":21,"v":0},{"s":"gr","c":22,"v":0},{"s":"gr","c":23,"v":0},{"s":"gr","c":24,"v":0},{"s":"gr","c":25,"v":0},{"s":"gr","c":26,"v":0},{"s":"gr","c":27,"v":0},{"s":"gr","c":28,"v":0},{"s":"gr","c":29,"v":0},{"s":"gr","c":30,"v":0},{"s":"gr","c":31,"v":0},{"s":"gr","c":32,"v":0},{"s":"gr","c":33,"v":0},{"s":"gr","c":34,"v":0},{"s":"gr","c":35,"v":0},{"s":"gr","c":36,"v":0.03},{"s":"gr","c":37,"v":0.06},{"s":"gr","c":38,"v":0.1},{"s":"gr","c":39,"v":0.17},{"s":"gr","c":40,"v":0.3},{"s":"gr","c":41,"v":0.44},{"s":"gr","c":42,"v":0.6},{"s":"gr","c":43,"v":0.77},{"s":"gr","c":44,"v":0.93},{"s":"gr","c":45,"v":1.08},{"s":"gr","c":46,"v":1.2},{"s":"gr","c":47,"v":1.32},{"s":"gr","c":48,"v":1.42},{"s":"gr","c":49,"v":1.5},{"s":"gr","c":50,"v":1.57},{"s":"gr","c":51,"v":1.64},{"s":"gr","c":52,"v":1.7},{"s":"gr","c":53,"v":1.76},{"s":"gr","c":54,"v":1.82},{"s":"gr","c":55,"v":1.87}
]},
"vconcat":[
{"width":461,"height":315,
"encoding":{"x":{"field":"c","type":"quantitative","scale":{"domain":[0.5,55.5],"nice":false,"zero":false},"axis":{"values":[1,4,7,10,13,16,19,22,25,28,31,34,37,40,43,46,49,52,55],"offset":-52.5,"title":"Cycle number","titleY":62}},
"y":{"field":"v","type":"quantitative","scale":{"domain":[-1,5],"nice":false},"axis":{"values":[-1,0,1,2,3,4,5],"title":"FAM dRn"}}},
"layer":[
{"data":{"name":"A"},"mark":{"type":"line","strokeWidth":1},"encoding":{"color":{"field":"s","type":"nominal","scale":{"domain":["f1","f2","dr","m6","pu","te","cy","ot","or","gr"],"range":["#4D4D99","#FFCC00","#800000","#FFFF00","#CC99FF","#33CCCC","#00E0FF","#FFFF33","#FF9900","#A6A6A6"]},"legend":null}}},
{"data":{"name":"A"},"mark":{"type":"point","filled":true,"strokeWidth":1,"opacity":1},"encoding":{
"shape":{"field":"s","type":"nominal","scale":{"domain":["f1","f2","dr","m6","pu","te","cy","ot","or","gr"],"range":["M-1,-1L1,1M-1,1L1,-1M0,-1L0,1","triangle-up","circle","triangle-up","circle","stroke","M-1,-1L1,1M-1,1L1,-1M0,-1L0,1","triangle-up","triangle-up","circle"]},"legend":null},
"fill":{"field":"s","type":"nominal","scale":{"domain":["f1","f2","dr","m6","pu","te","cy","ot","or","gr"],"range":["transparent","#FFCC00","#800000","#FFCC00","#CC99FF","transparent","transparent","#FFF2D9","#FF9900","#A6A6A6"]},"legend":null},
"stroke":{"field":"s","type":"nominal","scale":{"domain":["f1","f2","dr","m6","pu","te","cy","ot","or","gr"],"range":["#4D4D99","#E68A00","#800000","#993300","#CC99FF","#33CCCC","#00CCFF","#FF6600","#FF9900","#A6A6A6"]},"legend":null},
"size":{"field":"s","type":"nominal","scale":{"domain":["f1","f2","dr","m6","pu","te","cy","ot","or","gr"],"range":[20,18,28,34,30,40,45,40,34,30]},"legend":null}}},
{"data":{"name":"arA"},"mark":{"type":"rule","color":"black","strokeWidth":1},"encoding":{"x2":{"field":"c2"}}},
{"data":{"name":"arA"},"mark":{"type":"point","shape":"triangle-right","filled":true,"color":"black","size":30,"opacity":1},"encoding":{"x":{"field":"c2","type":"quantitative"}}},
{"data":{"name":"ntA"},"transform":[{"filter":"datum.t != 'Mouse DNA 1e6 copies/mL'"}],"mark":{"type":"text","align":"left","baseline":"middle","font":"Liberation Sans","fontSize":12,"color":"black"},"encoding":{"text":{"field":"t"}}},
{"data":{"name":"ntA"},"transform":[{"filter":"datum.t == 'Mouse DNA 1e6 copies/mL'"}],"mark":{"type":"text","align":"left","baseline":"middle","font":"Liberation Sans","fontSize":13.5,"color":"black"},"encoding":{"text":{"field":"t"}}}
]},
{"width":461,"height":318,
"encoding":{"x":{"field":"c","type":"quantitative","scale":{"domain":[0.5,55.5],"nice":false,"zero":false},"axis":{"values":[1,4,7,10,13,16,19,22,25,28,31,34,37,40,43,46,49,52,55],"offset":-63.6,"title":"Cycle number","titleY":68}},
"y":{"field":"v","type":"quantitative","scale":{"domain":[-1,4],"nice":false},"axis":{"values":[-1,0,1,2,3,4],"title":"FAM dRn"}}},
"layer":[
{"data":{"name":"B"},"mark":{"type":"line","strokeWidth":1},"encoding":{"color":{"field":"s","type":"nominal","scale":{"domain":["f1","f2","dr","m6","pu","te","cy","ot","or","gr"],"range":["#4D4D99","#FFCC00","#800000","#FFFF00","#CC99FF","#33CCCC","#00E0FF","#FFFF33","#FF9900","#A6A6A6"]},"legend":null}}},
{"data":{"name":"B"},"mark":{"type":"point","filled":true,"strokeWidth":1,"opacity":1},"encoding":{
"shape":{"field":"s","type":"nominal","scale":{"domain":["f1","f2","dr","m6","pu","te","cy","ot","or","gr"],"range":["M-1,-1L1,1M-1,1L1,-1M0,-1L0,1","triangle-up","circle","triangle-up","circle","stroke","M-1,-1L1,1M-1,1L1,-1M0,-1L0,1","triangle-up","triangle-up","circle"]},"legend":null},
"fill":{"field":"s","type":"nominal","scale":{"domain":["f1","f2","dr","m6","pu","te","cy","ot","or","gr"],"range":["transparent","#FFCC00","#800000","#FFCC00","#CC99FF","transparent","transparent","#FFF2D9","#FF9900","#A6A6A6"]},"legend":null},
"stroke":{"field":"s","type":"nominal","scale":{"domain":["f1","f2","dr","m6","pu","te","cy","ot","or","gr"],"range":["#4D4D99","#E68A00","#800000","#993300","#CC99FF","#33CCCC","#00CCFF","#FF6600","#FF9900","#A6A6A6"]},"legend":null},
"size":{"field":"s","type":"nominal","scale":{"domain":["f1","f2","dr","m6","pu","te","cy","ot","or","gr"],"range":[20,18,28,34,30,40,45,40,34,30]},"legend":null}}},
{"data":{"name":"arB"},"mark":{"type":"rule","color":"black","strokeWidth":1},"encoding":{"x2":{"field":"c2"}}},
{"data":{"name":"arB"},"mark":{"type":"point","shape":"triangle-right","filled":true,"color":"black","size":30,"opacity":1},"encoding":{"x":{"field":"c2","type":"quantitative"}}},
{"data":{"name":"ntB"},"mark":{"type":"text","align":"left","baseline":"middle","font":"Liberation Sans","fontSize":12,"color":"black"},"encoding":{"text":{"field":"t"}}}
]}
]}
